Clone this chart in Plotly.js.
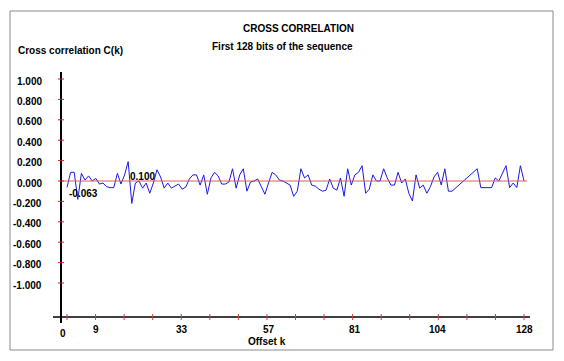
<!DOCTYPE html>
<html>
<head>
<meta charset="utf-8">
<script src="https://cdn.plot.ly/plotly-3.0.1.min.js"></script>
<style>html,body{margin:0;padding:0;background:#fff;}#chart{width:564px;height:361px;}</style>
</head>
<body>
<div id="chart"></div>
<script>
// ---- data ----
const offsets = [1,2,3,4,5,6,7,8,9,10,11,12,13,14,15,16,17,18,19,20,21,22,23,24,25,26,27,28,29,30,31,32,
  33,34,35,36,37,38,39,40,41,42,43,44,45,46,47,48,49,50,51,52,53,54,55,56,57,58,59,60,61,62,63,64,
  65,66,67,68,69,70,71,72,73,74,75,76,77,78,79,80,81,82,83,84,85,86,87,88,89,90,91,92,93,94,95,96,
  97,98,99,100,101,102,103,104,105,106,107,108,115,116,119,120,121,123,124,125,126,127,128];
const corr = [-0.063,0.085,0.085,-0.18,0.075,0.01,0.05,0.0,0.025,-0.03,-0.02,-0.055,-0.065,-0.065,0.075,-0.03,
  0.06,0.19,-0.22,-0.02,0.0,-0.07,-0.02,-0.12,-0.02,0.11,0.04,-0.07,-0.02,-0.07,-0.05,-0.03,
  -0.08,-0.06,0.02,0.06,0.06,-0.04,0.06,-0.13,0.03,0.085,0.05,-0.03,-0.03,-0.01,0.12,-0.07,
  0.06,0.12,-0.1,-0.01,0.0,0.02,-0.055,-0.13,-0.02,0.085,0.06,0.01,0.0,-0.02,-0.04,-0.15,
  -0.1,0.12,0.03,0.06,-0.04,-0.05,-0.08,-0.1,-0.09,0.02,-0.07,-0.09,0.03,-0.15,0.12,-0.04,
  0.06,0.085,0.15,-0.12,-0.08,0.06,0.0,0.0,0.12,0.03,-0.04,-0.04,0.085,-0.02,0.02,-0.12,
  -0.196,0.06,-0.07,-0.04,-0.12,-0.055,0.04,0.085,-0.04,0.12,-0.1,-0.1,0.12,-0.065,-0.065,0.03,
  0.0,0.15,-0.065,-0.02,-0.065,0.15,0.0];
const yTickVals = [1.0,0.8,0.6,0.4,0.2,0.0,-0.2,-0.4,-0.6,-0.8,-1.0];
const yTickText = ['1.000','0.800','0.600','0.400','0.200','0.000','-0.200','-0.400','-0.600','-0.800','-1.000'];
const xStart = 1, xEnd = 128, xDivisions = 16;
const xLabelVals = [9,33,57,81,104,128];
const xLabelText = ['9','33','57','81','104','128'];
const originLabel = '0';
const pointLabels = [{x:1, y:-0.063, text:'-0.063'}, {x:19, y:0.10, text:'0.100'}];
const titleText = 'CROSS CORRELATION';
const subtitleText = 'First 128 bits of the sequence';
const yTitleText = 'Cross correlation C(k)';
const xTitleText = 'Offset k';

// ---- geometry (pixels) ----
const W = 564, H = 361;
const PX_X1 = 67, PX_X128 = 524, PX_Y0 = 181, PX_PER_UNIT_Y = 102;
const pxX = (p) => xStart + (p - PX_X1) * (xEnd - xStart) / (PX_X128 - PX_X1);
const pxY = (p) => (PX_Y0 - p) / PX_PER_UNIT_Y;
const fx = (p) => p / W, fy = (p) => 1 - p / H;

const FONT = {family: '"Liberation Sans Narrow", "Arial Narrow", "Liberation Sans", Arial, sans-serif', size: 10, color: '#000', weight: 700};

const xTicks = [];
for (let i = 0; i <= xDivisions; i++) xTicks.push(xStart + i * (xEnd - xStart) / xDivisions);

const shapes = [];
// outer frame
shapes.push({type:'rect', xref:'paper', yref:'paper', x0:fx(10), x1:fx(553), y0:fy(11), y1:fy(350), line:{color:'#8a8a8a', width:1}});
// zero reference line
shapes.push({type:'line', xref:'paper', yref:'y', x0:fx(61), x1:fx(527), y0:0, y1:0, line:{color:'#e05a5a', width:1}});
// y axis
shapes.push({type:'line', xref:'paper', yref:'paper', x0:fx(61), x1:fx(61), y0:fy(72), y1:fy(323), line:{color:'#000', width:2}});
// x axis
shapes.push({type:'line', xref:'paper', yref:'paper', x0:fx(53), x1:fx(530), y0:fy(317), y1:fy(317), line:{color:'#000', width:1.5}});
// y ticks
yTickVals.forEach(v => shapes.push({type:'line', xref:'paper', yref:'y', x0:fx(58), x1:fx(64), y0:v, y1:v, line:{color:'#d02020', width:1}}));
// x ticks
xTicks.forEach(v => shapes.push({type:'line', xref:'x', yref:'paper', x0:v, x1:v, y0:fy(314), y1:fy(320), line:{color:'#c84040', width:1}}));

const annotations = [];
const txt = (x, y, text, xanchor, xref, yref, font) => annotations.push({
  x, y, xref, yref, text, showarrow:false, xanchor, yanchor:'middle', font: font || FONT});
txt(fx(298), fy(28), titleText, 'center', 'paper', 'paper');
txt(fx(282), fy(46), subtitleText, 'center', 'paper', 'paper');
txt(fx(16), fy(50), yTitleText, 'left', 'paper', 'paper');
txt(fx(267), fy(341), xTitleText, 'center', 'paper', 'paper');
yTickVals.forEach((v, i) => annotations.push({x:fx(44), y:v, xref:'paper', yref:'y', yshift:-2, text:yTickText[i],
  showarrow:false, xanchor:'right', yanchor:'middle', font:FONT}));
xLabelVals.forEach((v, i) => annotations.push({x:v, y:fy(329), xref:'x', yref:'paper', text:xLabelText[i],
  showarrow:false, xanchor:'center', yanchor:'middle', font:FONT}));
txt(fx(63), fy(333), originLabel, 'center', 'paper', 'paper');
annotations.push({x:pointLabels[0].x, y:pointLabels[0].y, xref:'x', yref:'y', text:pointLabels[0].text, showarrow:false,
  xanchor:'left', yanchor:'middle', xshift:0, yshift:-6, font:FONT});
annotations.push({x:pointLabels[1].x, y:pointLabels[1].y, xref:'x', yref:'y', text:pointLabels[1].text, showarrow:false,
  xanchor:'left', yanchor:'middle', xshift:-4, yshift:-6, font:FONT});

const trace = {x: offsets, y: corr, type:'scatter', mode:'lines', line:{color:'#1a1ae6', width:1}, hoverinfo:'skip'};

const layout = {
  width: W, height: H, margin:{l:0, r:0, t:0, b:0, pad:0},
  paper_bgcolor:'#fff', plot_bgcolor:'#fff', showlegend:false,
  xaxis:{range:[pxX(0), pxX(W)], visible:false, fixedrange:true},
  yaxis:{range:[pxY(H), pxY(0)], visible:false, fixedrange:true},
  shapes, annotations
};
Plotly.newPlot('chart', [trace], layout, {staticPlot:true, displayModeBar:false});
</script>
</body>
</html>
